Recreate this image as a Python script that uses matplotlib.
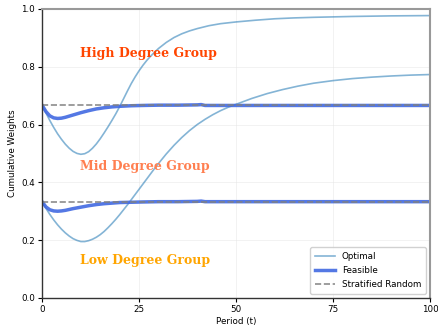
import matplotlib
matplotlib.use("Agg")
import matplotlib.pyplot as plt

# ---- data ----
t_opt_high = [0, 1, 2, 3, 4, 5, 6, 7, 8, 9, 10, 11, 12, 13, 14, 15, 16, 17, 18, 19, 20,
              21, 22, 23, 24, 25, 26, 27, 28, 30, 32, 34, 36, 38, 40, 43, 46, 50, 55,
              60, 65, 70, 80, 90, 100]
opt_high = [0.667, 0.640, 0.614, 0.590, 0.568, 0.549, 0.532, 0.518, 0.507, 0.500, 0.497,
            0.499, 0.506, 0.518, 0.533, 0.551, 0.571, 0.592, 0.614, 0.637, 0.662,
            0.689, 0.716, 0.742, 0.765, 0.786, 0.805, 0.822, 0.837, 0.863, 0.884,
            0.901, 0.914, 0.924, 0.932, 0.942, 0.949, 0.955, 0.961, 0.966, 0.969,
            0.971, 0.974, 0.976, 0.977]

t_opt_low = [0, 1, 2, 3, 4, 5, 6, 7, 8, 9, 10, 11, 12, 13, 14, 15, 16, 17, 18, 19, 20,
             21, 22, 23, 24, 25, 26, 27, 28, 29, 30, 32, 34, 36, 38, 40, 42, 44, 46,
             48, 50, 54, 58, 62, 66, 70, 75, 80, 85, 90, 95, 100]
opt_low = [0.333, 0.310, 0.289, 0.270, 0.253, 0.238, 0.225, 0.214, 0.205, 0.199, 0.195,
           0.195, 0.198, 0.203, 0.210, 0.219, 0.230, 0.243, 0.257, 0.272, 0.288,
           0.305, 0.322, 0.340, 0.358, 0.376, 0.394, 0.412, 0.430, 0.448, 0.465,
           0.498, 0.528, 0.555, 0.579, 0.600, 0.618, 0.634, 0.648, 0.660, 0.670,
           0.690, 0.707, 0.721, 0.733, 0.743, 0.752, 0.759, 0.764, 0.768, 0.771, 0.773]

t_feas = [0, 1, 2, 3, 4, 5, 6, 8, 10, 12, 14, 16, 18, 20, 23, 26, 30, 35, 40, 41, 42, 43, 100]
feas_high = [0.667, 0.645, 0.630, 0.623, 0.621, 0.622, 0.625, 0.633, 0.641, 0.648, 0.654,
             0.658, 0.661, 0.663, 0.665, 0.666, 0.667, 0.667, 0.668, 0.669, 0.666,
             0.666, 0.666]
feas_low = [0.333, 0.315, 0.305, 0.301, 0.300, 0.301, 0.303, 0.309, 0.314, 0.319, 0.323,
            0.326, 0.328, 0.330, 0.331, 0.332, 0.333, 0.333, 0.334, 0.335, 0.333,
            0.333, 0.333]

strat_t = [0, 100]
strat_high = [2 / 3, 2 / 3]
strat_low = [1 / 3, 1 / 3]

group_labels = ["High Degree Group", "Mid Degree Group", "Low Degree Group"]
group_label_y = [0.845, 0.455, 0.131]
group_colors = ["#ff4500", "#ff7f50", "#ffa500"]

x_ticks = [0, 25, 50, 75, 100]
y_ticks = [0.0, 0.2, 0.4, 0.6, 0.8, 1.0]

# ---- figure ----
fig = plt.figure(figsize=(4.38, 3.31), dpi=100)
ax = fig.add_axes([0.096, 0.100, 0.886, 0.873])

opt_color = "#1f77b4"
ax.plot(t_opt_high, opt_high, color=opt_color, alpha=0.55, lw=1.2, label="Optimal")
ax.plot(t_opt_low, opt_low, color=opt_color, alpha=0.55, lw=1.2)
ax.plot(t_feas, feas_high, color="royalblue", alpha=0.9, lw=2.5, label="Feasible")
ax.plot(t_feas, feas_low, color="royalblue", alpha=0.9, lw=2.5)
ax.plot(strat_t, strat_high, color="gray", ls="--", lw=1.2, alpha=0.9, label="Stratified Random")
ax.plot(strat_t, strat_low, color="gray", ls="--", lw=1.2, alpha=0.9)

for lab, yy, col in zip(group_labels, group_label_y, group_colors):
    ax.text(9.8, yy, lab, color=col, fontsize=9, fontweight="bold",
            family="DejaVu Serif", va="center", ha="left")

ax.set_xlim(0, 100)
ax.set_ylim(0, 1)
ax.set_xticks(x_ticks)
ax.set_yticks(y_ticks)
ax.tick_params(labelsize=6.3, length=3, width=0.8, pad=2)
ax.set_xlabel("Period (t)", fontsize=6.3, labelpad=2)
ax.set_ylabel("Cumulative Weights", fontsize=6.3, labelpad=3)
ax.grid(True, color="#e6e6e6", lw=0.6, alpha=0.6)

for s in ["top", "right"]:
    ax.spines[s].set_color("#999999")
    ax.spines[s].set_linewidth(1.5)
for s in ["left", "bottom"]:
    ax.spines[s].set_color("#333333")
    ax.spines[s].set_linewidth(1.0)

ax.legend(loc="lower right", fontsize=6.3, framealpha=0.9, edgecolor="#cccccc",
          fancybox=True, handlelength=2.3, borderpad=0.5, labelspacing=0.6)

fig.savefig("out.png", dpi=100)
